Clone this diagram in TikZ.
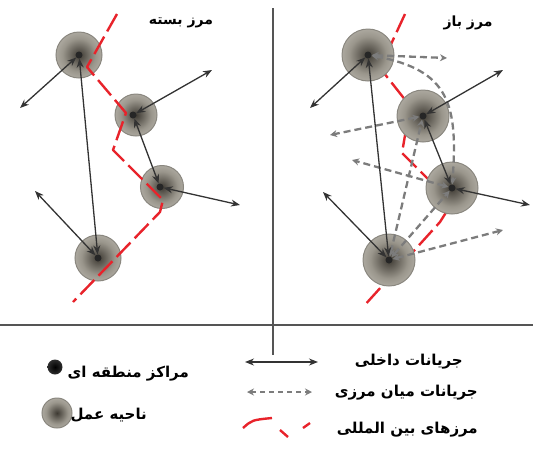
\documentclass[tikz,border=0pt]{standalone}
\usepackage{fontspec}
\newfontfamily\farsi[Script=Arabic]{DejaVu Sans}
\TeXXeTstate=1
\usetikzlibrary{arrows.meta}

\definecolor{bordred}{HTML}{E8232B}
\definecolor{flowgray}{HTML}{333333}
\definecolor{crossgray}{HTML}{7C7C7C}
\definecolor{zonein}{HTML}{3E3A33}
\definecolor{zonemid}{HTML}{9A968C}
\definecolor{zoneout}{HTML}{D6D3CC}
\definecolor{zoneline}{HTML}{8A877F}
\definecolor{framegray}{HTML}{555555}
\pgfdeclareradialshading{zoneshade}{\pgfpoint{0bp}{0bp}}{color(0bp)=(zonein); color(18bp)=(zonemid); color(42bp)=(zoneout); color(50bp)=(zoneout)}
\pgfdeclareradialshading{hubshade}{\pgfpoint{0bp}{0bp}}{color(0bp)=(black); color(28bp)=(black!80); color(50bp)=(white)}

\tikzset{
  zone/.style={circle, minimum size=#1, inner sep=0pt, draw=zoneline, line width=1pt, shading=zoneshade},
  zone/.default=48pt,
  hub/.style={circle, fill=black!85, inner sep=0pt, minimum size=7pt},
  keyhub/.style={circle, inner sep=0pt, minimum size=15pt, shading=hubshade},
  flow/.style={draw=flowgray, line width=1.3pt, {Stealth[length=9pt,width=7pt]}-{Stealth[length=9pt,width=7pt]}},
  crossflow/.style={draw=crossgray, line width=2.3pt, dash pattern=on 7pt off 4pt, {Stealth[length=7pt,width=7pt]}-{Stealth[length=7pt,width=7pt]}},
  border/.style={draw=bordred, line width=2.4pt, dash pattern=on 20pt off 6pt, line join=round},
  frame/.style={draw=framegray, line width=1.6pt},
  title/.style={font=\farsi\bfseries\fontsize{14}{16}\selectfont, inner sep=0pt},
  legendtext/.style={font=\farsi\bfseries\fontsize{15}{17}\selectfont, inner sep=0pt, anchor=east}
}

\begin{document}
\begin{tikzpicture}[x=1pt, y=-1pt]
\useasboundingbox (0,0) rectangle (533,448);

% frame lines
\draw[frame] (0,325) -- (533,325);
\draw[frame] (273,8) -- (273,355);

% titles
\node[title] (closedtitle) at (181,23) {\beginR مرز بسته\endR};
\node[title] (opentitle) at (468,23) {\beginR مرز باز\endR};

% open border (under the zones)
\draw[border] (405,14) -- (380,68) -- (410,106) -- (402,153) -- (412,163)
              -- (452,203) -- (440,222) -- (363,307);

% zones
\node[zone=46pt] (zoneAL) at (79,55) {};
\node[zone=42pt] (zoneBL) at (136,115) {};
\node[zone=43pt] (zoneCL) at (162,187) {};
\node[zone=46pt] (zoneDL) at (98,258) {};
\node[zone=52pt] (zoneAR) at (368,55) {};
\node[zone=52pt] (zoneBR) at (423,116) {};
\node[zone=52pt] (zoneCR) at (452,188) {};
\node[zone=52pt] (zoneDR) at (389,260) {};

% closed border (over the zones)
\draw[border] (117,14) -- (87,67) -- (126,113) -- (113,150) -- (124,161)
              -- (163,200) -- (160,212) -- (73,302);

% regional centres
\node[hub] (aL) at (79,55) {};
\node[hub] (bL) at (133,115) {};
\node[hub] (cL) at (160,187) {};
\node[hub] (dL) at (98,258) {};
\node[hub] (aR) at (368,55) {};
\node[hub] (bR) at (423,116) {};
\node[hub] (cR) at (452,188) {};
\node[hub] (dR) at (389,260) {};

% free ends of the flows
\coordinate (aLout) at (20,108);
\coordinate (bLout) at (212,70);
\coordinate (cLout) at (240,205);
\coordinate (dLout) at (35,191);
\coordinate (aRout) at (310,108);
\coordinate (bRout) at (503,70);
\coordinate (cRout) at (530,205);
\coordinate (dRout) at (323,192);
\coordinate (aRcross) at (447,58);
\coordinate (bRcross) at (330,135);
\coordinate (cRcross) at (352,160);
\coordinate (dRcross) at (503,230);

% cross-border flows
\draw[crossflow] (aR) -- (aRcross);
\draw[crossflow] (aR) .. controls (450,70) and (458,105) .. (cR);
\draw[crossflow] (bR) -- (bRcross);
\draw[crossflow] (cR) -- (cRcross);
\draw[crossflow] (dR) -- (dRcross);
\draw[crossflow] (dR) -- (bR);
\draw[crossflow] (dR) -- (cR);

% internal flows
\draw[flow] (aL) -- (aLout);
\draw[flow] (aL) -- (dL);
\draw[flow] (bL) -- (bLout);
\draw[flow] (bL) -- (cL);
\draw[flow] (cL) -- (cLout);
\draw[flow] (dL) -- (dLout);
\draw[flow] (aR) -- (aRout);
\draw[flow] (aR) -- (dR);
\draw[flow] (bR) -- (bRout);
\draw[flow] (bR) -- (cR);
\draw[flow] (cR) -- (cRout);
\draw[flow] (dR) -- (dRout);

% legend
\node[keyhub] (keyhub) at (55,367) {};
\node[zone=30pt] (keyzone) at (57,413) {};
\node[legendtext] (keyhubtext) at (189,374) {\beginR مراکز منطقه ای\endR};
\node[legendtext] (keyzonetext) at (147,415) {\beginR ناحیه عمل\endR};

\coordinate (keyflowA) at (245,362);
\coordinate (keyflowB) at (318,362);
\coordinate (keycrossA) at (247,392);
\coordinate (keycrossB) at (312,392);
\draw[flow] (keyflowA) -- (keyflowB);
\draw[crossflow, line width=1.8pt, dash pattern=on 5pt off 4pt] (keycrossA) -- (keycrossB);
\draw[bordred, line width=2.4pt] (243,428) .. controls (252,420) .. (272,418);
\draw[bordred, line width=2.4pt] (280,430) -- (288,437);
\draw[bordred, line width=2.4pt] (303,428) -- (310,423);

\node[legendtext] (keyflowtext) at (463,362) {\beginR جریانات داخلی\endR};
\node[legendtext] (keycrosstext) at (478,393) {\beginR جریانات میان مرزی\endR};
\node[legendtext] (keybordertext) at (478,430) {\beginR مرزهای بین المللی\endR};
\end{tikzpicture}
\end{document}
